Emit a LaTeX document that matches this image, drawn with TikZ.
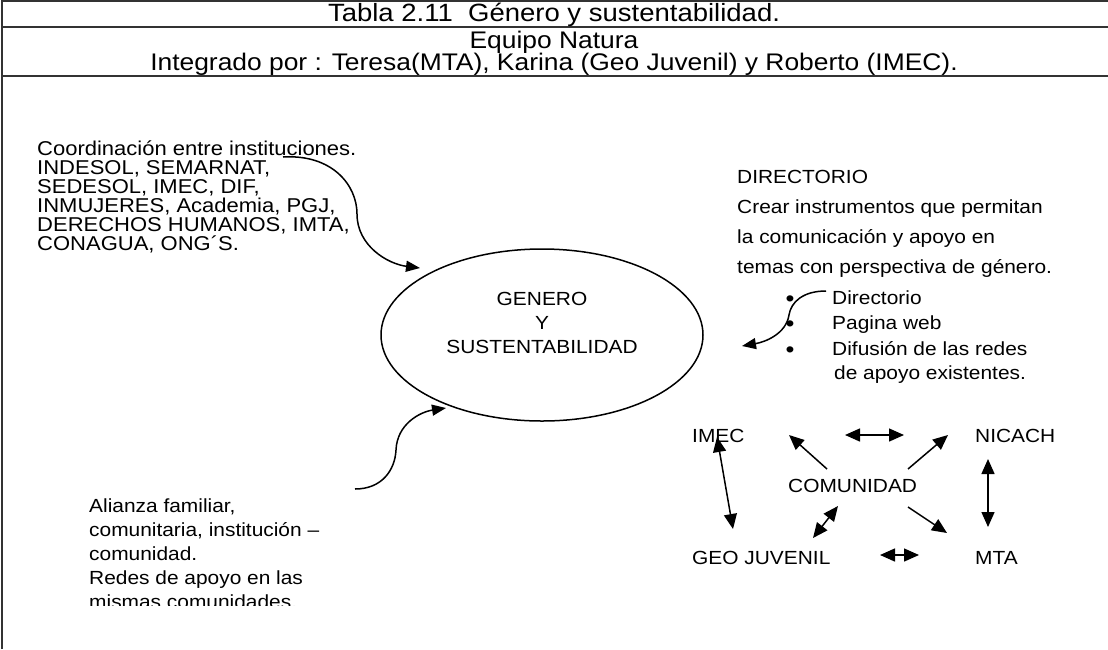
\documentclass[tikz,border=0pt]{standalone}
\usepackage{fontspec}
\setmainfont{Liberation Sans}[FakeStretch=1.1]
\usetikzlibrary{arrows.meta,shapes.geometric}
\begin{document}
\begin{tikzpicture}[x=1pt,y=-1pt,
  txt/.style={inner sep=0pt, anchor=base west, font=\fontsize{19}{19}\selectfont},
  ctxt/.style={inner sep=0pt, anchor=base, font=\fontsize{19}{19}\selectfont},
  bul/.style={inner sep=0pt, anchor=base, font=\fontsize{23}{23}\selectfont},
  hdr/.style={inner sep=0pt, anchor=base, font=\fontsize{24}{24}\selectfont},
  rule/.style={draw=black!80, line width=2pt},
  tipA/.tip={Triangle[length=14pt,width=11pt]},
  tipB/.tip={Triangle[length=15pt,width=13pt]},
  curv/.style={line width=1.5pt, -tipA},
  conn/.style={line width=1.5pt, -tipB},
  dconn/.style={line width=1.5pt, tipB-tipB}
]
\useasboundingbox (0,0) rectangle (1108,649);
\fill[white] (0,0) rectangle (1108,649);
% table frame
\draw[rule] (2,649) -- (2,1) -- (1108,1);
\draw[rule] (2,27) -- (1108,27);
\draw[rule] (2,76) -- (1108,76);
% header
\node[hdr, font=\fontsize{25}{25}\selectfont] (title) at (554,21) {Tabla 2.11\ \ Género y sustentabilidad.};
\node[hdr] (team) at (554,48) {Equipo Natura};
\node[hdr] (members) at (554,70) {Integrado por : Teresa(MTA), Karina (Geo Juvenil) y Roberto (IMEC).};
% central ellipse
\node[draw, ellipse, line width=1.5pt, minimum width=322pt, minimum height=172pt, inner sep=0pt] (core) at (542,335) {};
\node[ctxt] (g1) at (542,305) {GENERO};
\node[ctxt] (g2) at (542,329) {Y};
\node[ctxt] (g3) at (542,353) {SUSTENTABILIDAD};
% left top block
\foreach \t [count=\i] in {{Coordinación entre instituciones.},{INDESOL, SEMARNAT,},{SEDESOL, IMEC, DIF,},{INMUJERES, Academia, PGJ,},{DERECHOS HUMANOS, IMTA,},{CONAGUA, ONG´S.}}
  \node[txt, font=\fontsize{20}{20}\selectfont] (inst\i) at (37,{155+(\i-1)*19}) {\t};
% left bottom block (cut off)
\begin{scope}
\clip (0,0) rectangle (1108,605);
\foreach \t [count=\i] in {{Alianza familiar,},{comunitaria, institución –},{comunidad.},{Redes de apoyo en las},{mismas comunidades.}}
  \node[txt] (ali\i) at (89,{512+(\i-1)*24}) {\t};
\end{scope}
% right block
\foreach \t [count=\i] in {{DIRECTORIO},{Crear instrumentos que permitan},{la comunicación y apoyo en},{temas con perspectiva de género.}}
  \node[txt] (dir\i) at (737,{183+(\i-1)*30}) {\t};
\node[bul] (b1) at (790,306) {•};
\node[bul] (b2) at (790,331.5) {•};
\node[bul] (b3) at (790,357) {•};
\node[txt] (i1) at (832,304) {Directorio};
\node[txt] (i2) at (832,329.5) {Pagina web};
\node[txt] (i3) at (832,355) {Difusión de las redes};
\node[txt] (i4) at (834,379) {de apoyo existentes.};
% curved connectors
\coordinate (c1s) at (283,157);
\coordinate (c1m) at (357,214);
\coordinate (c1e) at (420,268);
\draw[curv] (c1s) .. controls (332,154) and (357,185) .. (c1m) .. controls (357,246) and (388,264) .. (c1e);
\coordinate (c3s) at (355,489);
\coordinate (c3m) at (396,450);
\coordinate (c3e) at (446,408);
\draw[curv] (c3s) .. controls (382,489) and (395,470) .. (c3m) .. controls (397,424) and (420,412) .. (c3e);
\coordinate (c2s) at (826,291);
\coordinate (c2m) at (789,315);
\coordinate (c2e) at (742,346);
\draw[curv] (c2s) .. controls (803,291) and (791,302) .. (c2m) .. controls (786,334) and (765,342) .. (c2e);
% network
\node[txt] (imec) at (692,442) {IMEC};
\node[txt] (nicach) at (975,442) {NICACH};
\node[txt] (com) at (788,492) {COMUNIDAD};
\node[txt] (geo) at (692,564) {GEO JUVENIL};
\node[txt] (mta) at (975,564) {MTA};
\coordinate (n1a) at (717,437); \coordinate (n1b) at (733,529);
\coordinate (n2a) at (827,469); \coordinate (n2b) at (789,435);
\coordinate (n3a) at (845,435); \coordinate (n3b) at (904,435);
\coordinate (n4a) at (908,469); \coordinate (n4b) at (948,435);
\coordinate (n5a) at (988,459); \coordinate (n5b) at (988,527);
\coordinate (n6a) at (908,507); \coordinate (n6b) at (947,533);
\coordinate (n7a) at (838,506); \coordinate (n7b) at (813,538);
\coordinate (n8a) at (880,555); \coordinate (n8b) at (919,555);
\draw[dconn] (n1a) -- (n1b);
\draw[conn] (n2a) -- (n2b);
\draw[dconn] (n3a) -- (n3b);
\draw[conn] (n4a) -- (n4b);
\draw[dconn] (n5a) -- (n5b);
\draw[conn] (n6a) -- (n6b);
\draw[dconn] (n7a) -- (n7b);
\draw[dconn] (n8a) -- (n8b);
\end{tikzpicture}
\end{document}
